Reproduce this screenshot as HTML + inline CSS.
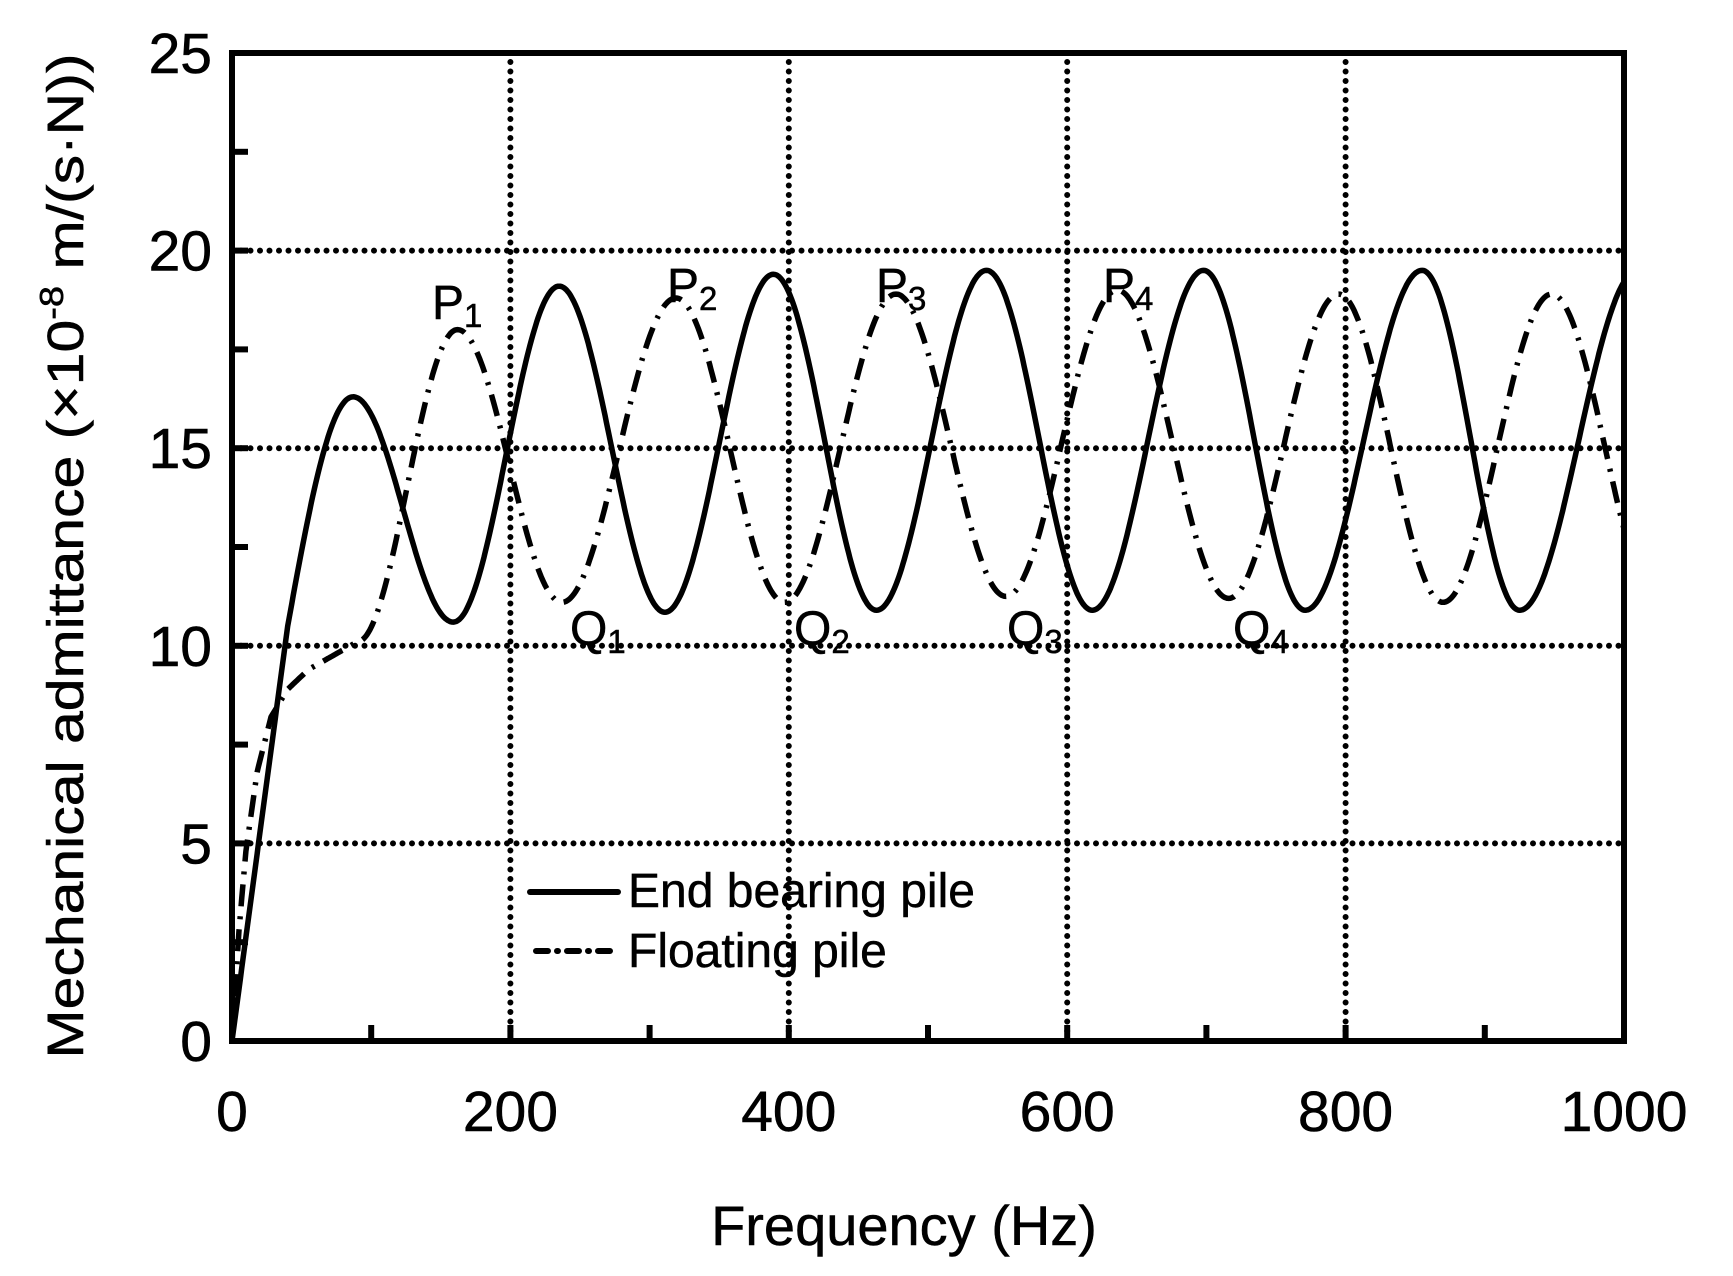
<!DOCTYPE html>
<html><head><meta charset="utf-8"><style>
html,body{margin:0;padding:0;background:#fff;}
svg{display:block;font-family:"Liberation Sans",Arial,sans-serif;}
</style></head><body>
<svg id="s" width="1733" height="1276" viewBox="0 0 1733 1276" xmlns="http://www.w3.org/2000/svg">
<rect width="1733" height="1276" fill="#fff"/>
<g id="grid" stroke="#000" stroke-width="6" stroke-linecap="round" stroke-dasharray="0 9.5" fill="none"></g>
<g id="curves" fill="none" stroke="#000" stroke-width="5.5" stroke-linejoin="round"></g>
<g id="axes" stroke="#000" stroke-width="6" fill="none"></g>
<g id="labels" font-size="57" fill="#000" stroke="#000" stroke-width="0.6"></g>
<g font-size="48" fill="#000" stroke="#000" stroke-width="0.5">
<text x="432" y="319">P<tspan font-size="33" dy="8">1</tspan></text>
<text x="667" y="302">P<tspan font-size="33" dy="8">2</tspan></text>
<text x="876" y="302">P<tspan font-size="33" dy="8">3</tspan></text>
<text x="1103" y="302">P<tspan font-size="33" dy="8">4</tspan></text>
<text x="570" y="645">Q<tspan font-size="33" dy="8">1</tspan></text>
<text x="794" y="645">Q<tspan font-size="33" dy="8">2</tspan></text>
<text x="1007" y="645">Q<tspan font-size="33" dy="8">3</tspan></text>
<text x="1233" y="645">Q<tspan font-size="33" dy="8">4</tspan></text>
</g>
<line x1="530" y1="892" x2="618" y2="892" stroke="#000" stroke-width="6" stroke-linecap="round"/>
<line x1="536" y1="951" x2="612" y2="951" stroke="#000" stroke-width="6" stroke-linecap="round" stroke-dasharray="12 9 1 9"/>
<g fill="#000" stroke="#000" stroke-width="0.5">
<text x="628" y="907" font-size="48">End bearing pile</text>
<text x="628" y="967" font-size="48">Floating pile</text>
<text x="904" y="1245" font-size="56" text-anchor="middle">Frequency (Hz)</text>
<text transform="translate(83,556) rotate(-90)" font-size="51" text-anchor="middle" textLength="1005" lengthAdjust="spacingAndGlyphs">Mechanical admittance (×10<tspan font-size="33" dy="-20">-8</tspan><tspan dy="20"> m/(s·N))</tspan></text>
</g>
</svg>
<script>
var X0=232,X1=1624,Y0=1041,Y1=53;
function px(f){return X0+(X1-X0)*f/1000;}
function py(v){return Y0-(Y0-Y1)*v/25;}
var NS="http://www.w3.org/2000/svg";
function el(p,t,a,txt){var e=document.createElementNS(NS,t);for(var k in a)e.setAttribute(k,a[k]);if(txt!==undefined)e.textContent=txt;p.appendChild(e);return e;}
var g=document.getElementById('grid');
[5,10,15,20].forEach(function(v){el(g,'line',{x1:X0+9,y1:py(v),x2:X1,y2:py(v)});});
[200,400,600,800].forEach(function(f){el(g,'line',{x1:px(f),y1:Y1+9,x2:px(f),y2:Y0});});
var a=document.getElementById('axes');
el(a,'rect',{x:X0,y:Y1,width:X1-X0,height:Y0-Y1});
for(var f=100;f<1000;f+=100){el(a,'line',{x1:px(f),y1:Y0,x2:px(f),y2:Y0-16});}
for(var v=2.5;v<25;v+=2.5){el(a,'line',{x1:X0,y1:py(v),x2:X0+16,y2:py(v)});}
var L=document.getElementById('labels');
for(var v=0;v<=25;v+=5)el(L,'text',{x:212,y:py(v)+20,'text-anchor':'end'},String(v));
for(var f=0;f<=1000;f+=200)el(L,'text',{x:px(f),y:1131,'text-anchor':'middle'},String(f));
function cosInterp(ext,f){for(var i=0;i<ext.length-1;i++){var p=ext[i],q=ext[i+1];if(f>=p[0]&&f<=q[0]){var t=(f-p[0])/(q[0]-p[0]);return p[1]+(q[1]-p[1])*(1-Math.cos(Math.PI*t))/2;}}return ext[ext.length-1][1];}
var solidExt=[[87,16.3],[159,10.6],[235,19.1],[311,10.85],[389,19.4],[463,10.9],[542,19.5],[618,10.9],[698,19.5],[771,10.9],[855,19.5],[925,10.9],[1010,19.5]];
var floatExt=[[90,10.1],[162,18.0],[237,11.1],[319,18.8],[397,11.1],[477,18.9],[556,11.25],[636,19.0],[716,11.2],[795,18.9],[870,11.1],[948,18.9],[1025,11.1]];
function solid(f){if(f<=40)return 10.5*f/40;if(f<=87)return 10.5+5.8*Math.sin(Math.PI/2*(f-40)/47);return cosInterp(solidExt,f);}
var fpts=[[0,0],[5,2.8],[10,4.8],[18,6.8],[28,8.2],[40,8.9],[55,9.4],[75,9.8],[90,10.1]];
function flo(f){if(f<=90){for(var i=0;i<fpts.length-1;i++){var p=fpts[i],q=fpts[i+1];if(f>=p[0]&&f<=q[0])return p[1]+(q[1]-p[1])*(f-p[0])/(q[0]-p[0]);}}return cosInterp(floatExt,f);}
function path(fn){var d='';for(var f=0;f<=1000;f+=1){d+=(f?'L':'M')+px(f).toFixed(1)+' '+py(fn(f)).toFixed(1);}return d;}
var c=document.getElementById('curves');
el(c,'path',{d:path(solid)});
el(c,'path',{d:path(flo),'stroke-dasharray':'22 10 3 10'});
</script>
</body></html>
